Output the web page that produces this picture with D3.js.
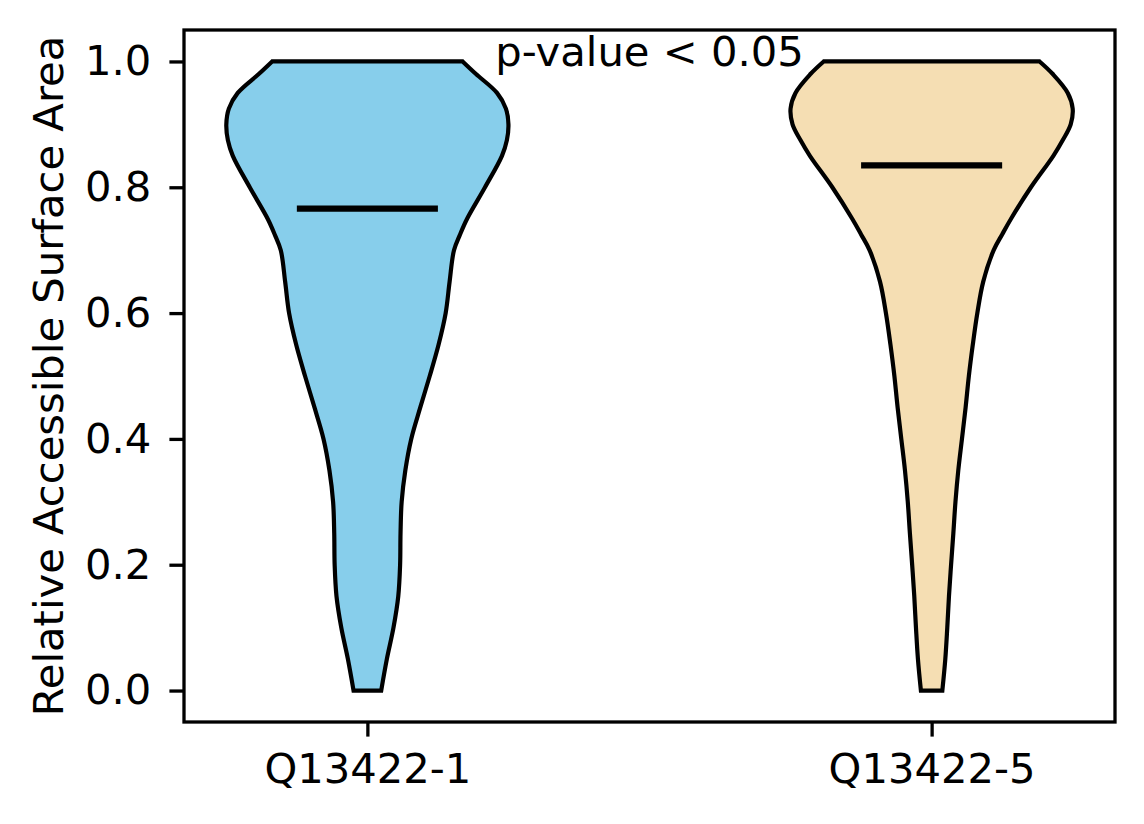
<!DOCTYPE html>
<html>
<head>
<meta charset="utf-8">
<script src="https://cdn.jsdelivr.net/npm/d3@7"></script>
<style>
  html, body { margin: 0; padding: 0; background: #fff; }
  svg { display: block; }
  text { font-family: "DejaVu Sans", sans-serif; }
</style>
</head>
<body>
<svg id="chart" width="1144" height="824"></svg>
<script>
// ---- data ----
const categories = ["Q13422-1", "Q13422-5"];
const positions = [1, 2];
const colors = ["#87CEEB", "#F5DEB3"];
const means = [0.766, 0.835];
const densityLevels = [0.00, 0.05, 0.10, 0.15, 0.20, 0.25, 0.30, 0.35, 0.40, 0.45, 0.50,
                       0.55, 0.60, 0.65, 0.70, 0.725, 0.75, 0.80, 0.85, 0.875, 0.90, 0.925, 0.95, 0.98, 1.00];
// relative density (1 = widest point of that violin)
const density1 = [0.098, 0.138, 0.185, 0.219, 0.232, 0.235, 0.243, 0.269, 0.311, 0.375, 0.442,
                  0.505, 0.555, 0.583, 0.614, 0.657, 0.707, 0.834, 0.954, 0.989, 1.000, 0.982, 0.919, 0.770, 0.675];
const density2 = [0.076, 0.097, 0.111, 0.123, 0.138, 0.154, 0.169, 0.189, 0.215, 0.241, 0.264,
                  0.292, 0.324, 0.366, 0.440, 0.500, 0.563, 0.704, 0.863, 0.930, 0.986, 1.000, 0.965, 0.859, 0.765];
const densities = [density1, density2];
const yTicks = [0.0, 0.2, 0.4, 0.6, 0.8, 1.0];
const annotation = "p-value < 0.05";
const yLabel = "Relative Accessible Surface Area";

// ---- layout ----
const svg = d3.select("#chart");
const plotLeft = 184, plotRight = 1115, plotTop = 30, plotBottom = 722;
const fontSize = 41.7;
const x = d3.scaleLinear().domain([0.675, 2.325]).range([plotLeft, plotRight]);
const y = d3.scaleLinear().domain([-0.05, 1.05]).range([plotBottom, plotTop]);
const halfWidth = 0.25;

// violins
densities.forEach((dens, i) => {
  const pts = densityLevels.map((v, j) => ({ v: v, d: dens[j] }));
  const area = d3.area()
    .y(d => y(d.v))
    .x0(d => x(positions[i] - halfWidth * d.d))
    .x1(d => x(positions[i] + halfWidth * d.d))
    .curve(d3.curveCatmullRom.alpha(0.5));
  svg.append("path")
    .datum(pts)
    .attr("d", area)
    .attr("fill", colors[i])
    .attr("stroke", "#000")
    .attr("stroke-width", 4.2)
    .attr("stroke-linejoin", "miter");
  // mean line
  svg.append("line")
    .attr("x1", x(positions[i] - 0.125))
    .attr("x2", x(positions[i] + 0.125))
    .attr("y1", y(means[i]))
    .attr("y2", y(means[i]))
    .attr("stroke", "#000")
    .attr("stroke-width", 6.25);
});

// axes
const yAxis = d3.axisLeft(y).tickValues(yTicks).tickFormat(d3.format(".1f"))
  .tickSize(14.6).tickPadding(18).tickSizeOuter(0);
const gy = svg.append("g").attr("transform", `translate(${plotLeft},0)`).call(yAxis);
const xAxis = d3.axisBottom(x).tickValues(positions).tickFormat((d, i) => categories[i])
  .tickSize(14.6).tickPadding(17).tickSizeOuter(0);
const gx = svg.append("g").attr("transform", `translate(0,${plotBottom})`).call(xAxis);
[gx, gy].forEach(g => {
  g.select(".domain").remove();
  g.selectAll(".tick line").attr("stroke", "#000").attr("stroke-width", 3.3);
  g.selectAll(".tick text").attr("fill", "#000")
    .style("font-size", fontSize + "px").style("font-family", "DejaVu Sans");
});

// frame
svg.append("rect")
  .attr("x", plotLeft).attr("y", plotTop)
  .attr("width", plotRight - plotLeft).attr("height", plotBottom - plotTop)
  .attr("fill", "none").attr("stroke", "#000").attr("stroke-width", 3.3);

// annotation
svg.append("text")
  .attr("x", x(1.5))
  .attr("y", y(1.0) + 5)
  .attr("text-anchor", "middle")
  .style("font-size", fontSize + "px")
  .attr("fill", "#000")
  .text(annotation);

// y label
svg.append("text")
  .attr("transform", `translate(63,${(plotTop + plotBottom) / 2}) rotate(-90)`)
  .attr("text-anchor", "middle")
  .style("font-size", fontSize + "px")
  .attr("fill", "#000")
  .text(yLabel);
</script>
</body>
</html>
